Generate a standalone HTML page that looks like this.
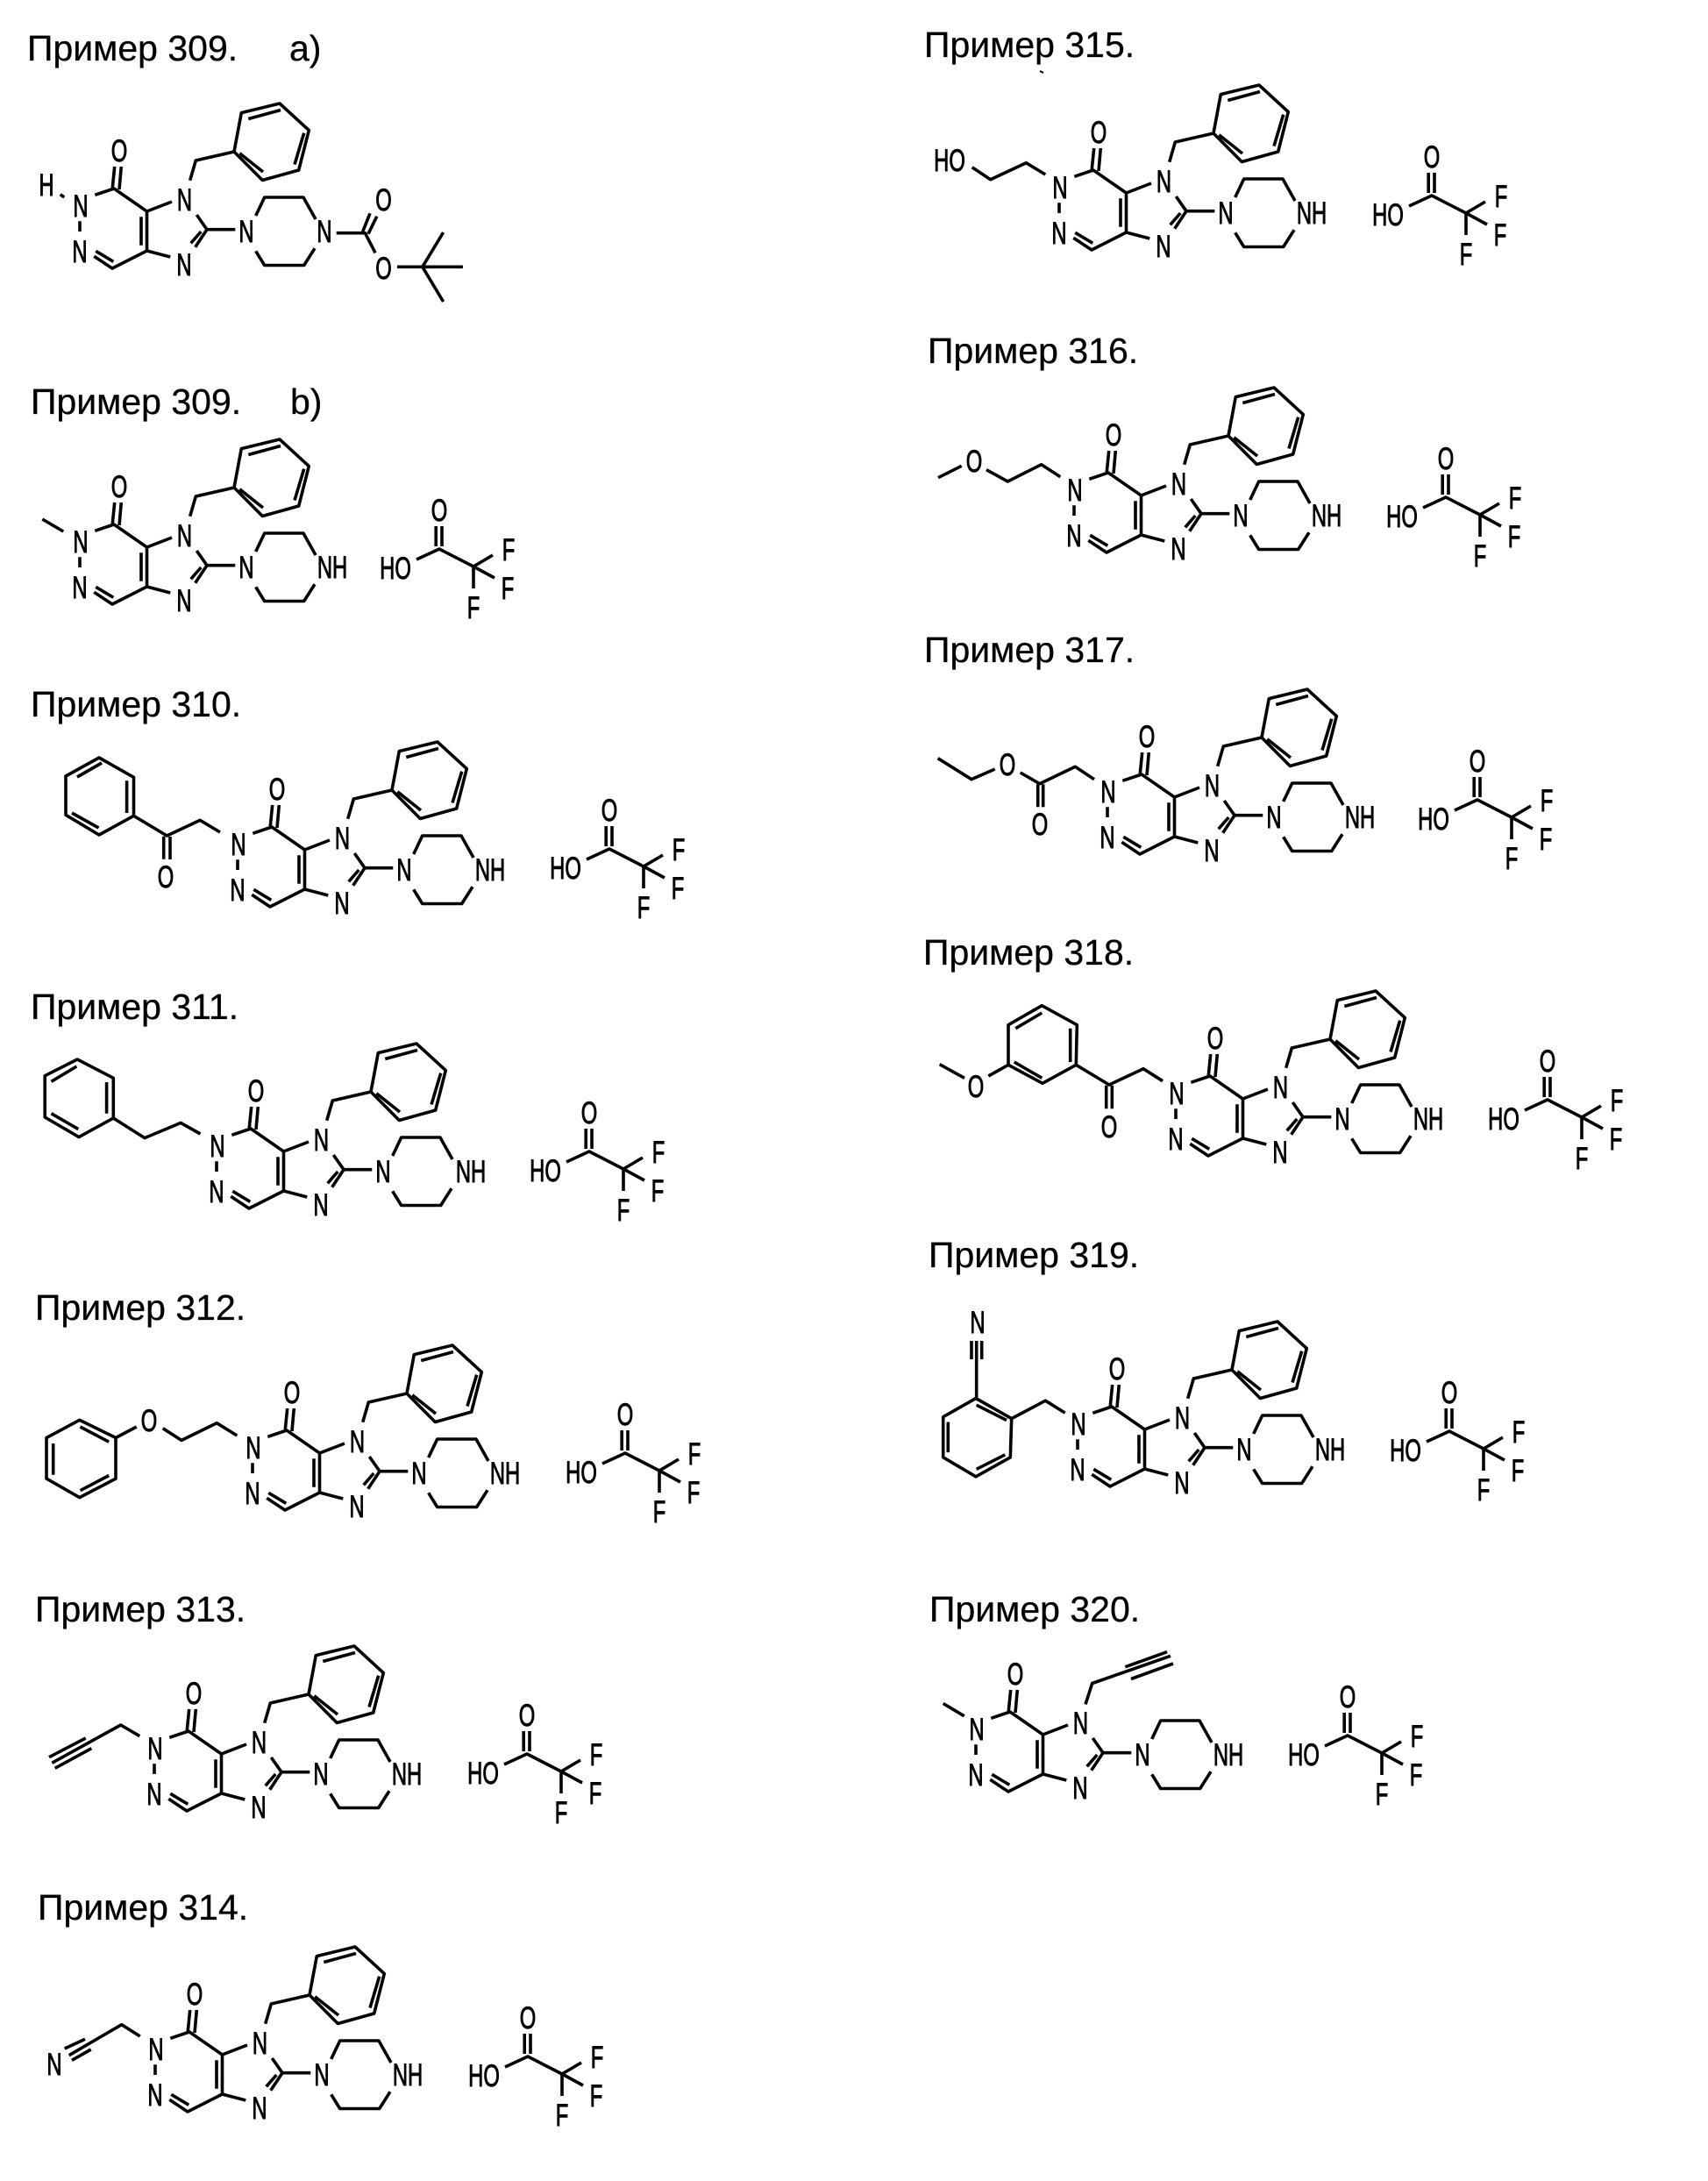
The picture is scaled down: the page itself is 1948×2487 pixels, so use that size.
<!DOCTYPE html>
<html lang="ru"><head><meta charset="utf-8"><title>Примеры 309–320</title>
<style>
html,body{margin:0;padding:0;background:#fff}
svg{display:block}
text{font-family:"Liberation Sans",sans-serif;fill:#000}
text.h{font-size:41px;stroke:#000;stroke-width:.3}
g.m text{font-size:35px;text-anchor:middle;stroke:#000;stroke-width:1;transform-box:fill-box;transform-origin:center;transform:scale(.68,1)}
path{fill:none;stroke:#000;stroke-width:3.6;stroke-linejoin:round}
</style></head><body>
<svg xmlns="http://www.w3.org/2000/svg" width="1948" height="2487" viewBox="0 0 1948 2487">
<rect width="1948" height="2487" fill="#fff"/>
<defs>
<g id="core">
<path d="M-172.7-41.7L-151-49L-113.5-23L-85-34M-152.7-50L-150.3-74M-145-48L-142.7-74M-113.5-23V22M-120-16.7V15.7M-86.7 29L-113.5 22L-153 42L-173.7 28.3M-171.7 22.3L-151.7 34.3M-190-11.7V0M-56.7-19L-45-2.3L-58.3 17.7M-63.3 13.3L-51.7 0M-45-2.3H-12.7M10.7-18L20.7-39H65L79-14M10.7 22.3L20.7 38.5H65.7L78 19.2"/>
</g>
<g id="bn">
<path d="M-64.3-58.3L-57.7-81L-14-91L-5.7-135.4L38-146L71.3-115.4L59.7-70L18.3-58.5L-14-91M-7.7-89.2L19-68M2.3-128.5L39-138.5M65.7-112.3L55-76.5"/>
</g>
<g id="tfa">
<path d="M-26 12L0 0L39 20L61 7M39 20L63 33M39 20V45M-3.8-3V-26M3-3V-26"/>
</g>
</defs>

<text class="h" x="31" y="69">Пример 309.</text><text class="h" x="330" y="69">a)</text>
<text class="h" x="35" y="472">Пример 309.</text><text class="h" x="331" y="472">b)</text>
<text class="h" x="35" y="817">Пример 310.</text>
<text class="h" x="35" y="1162">Пример 311.</text>
<text class="h" x="40" y="1505">Пример 312.</text>
<text class="h" x="40" y="1849">Пример 313.</text>
<text class="h" x="43" y="2189">Пример 314.</text>
<text class="h" x="1054" y="65">Пример 315.</text>
<text class="h" x="1058" y="414">Пример 316.</text>
<text class="h" x="1054" y="755">Пример 317.</text>
<text class="h" x="1053" y="1100">Пример 318.</text>
<text class="h" x="1059" y="1445">Пример 319.</text>
<text class="h" x="1060" y="1849">Пример 320.</text>
<path d="M1186 81L1190 83" style="stroke-width:2"/>

<!-- 309a -->
<g class="m" transform="translate(281,264)"><use href="#core"/><use href="#bn"/>
<path d="M-212.3-42.3L-207.7-39M102.7 1.7H135.4L147 24.3M132.7 0L141-20.7M139 2.7L148.8-17.3M172 40.3H246.9M224.6 1L200.8 40.3L224.6 80"/>
<text x="-145" y="-80">O</text><text x="-189" y="-17">N</text><text x="-190" y="35">N</text><text x="-70.5" y="-24">N</text><text x="-71" y="50">N</text><text x="0" y="12">N</text><text x="89" y="12">N</text>
<text x="-228" y="-41">H</text><text x="156.5" y="-24">O</text><text x="156.5" y="54">O</text></g>

<!-- 309b -->
<g class="m" transform="translate(281,647)"><use href="#core"/><use href="#bn"/>
<path d="M-232.7-55L-208.8-41"/>
<text x="-145" y="-80">O</text><text x="-189" y="-17">N</text><text x="-190" y="35">N</text><text x="-70.5" y="-24">N</text><text x="-71" y="50">N</text><text x="0" y="12">N</text><text x="98" y="12">NH</text></g>
<g class="m" transform="translate(501,626)"><use href="#tfa"/><text x="0" y="-32">O</text><text x="-50" y="34">HO</text><text x="79" y="13">F</text><text x="78" y="57">F</text><text x="39" y="79">F</text></g>

<!-- 310 -->
<g class="m" transform="translate(461,992)"><use href="#core"/><use href="#bn"/>
<path d="M-210-43L-232.8-56.7L-270.6-39L-308.5-61.7V-105.7L-348-128L-386-107V-62.7L-348-40L-308.5-61.7M-316.4-101.7V-65M-345-122L-373-106M-379-65L-348.5-48M-274.3-38.3V-12.3M-267-38V-12"/>
<text x="-145" y="-80">O</text><text x="-189" y="-17">N</text><text x="-190" y="35">N</text><text x="-70.5" y="-24">N</text><text x="-71" y="50">N</text><text x="0" y="12">N</text><text x="98" y="12">NH</text><text x="-272" y="20">O</text></g>
<g class="m" transform="translate(695,968)"><use href="#tfa"/><text x="0" y="-32">O</text><text x="-50" y="34">HO</text><text x="79" y="13">F</text><text x="78" y="57">F</text><text x="39" y="79">F</text></g>

<!-- 311 -->
<g class="m" transform="translate(437,1336)"><use href="#core"/><use href="#bn"/>
<path d="M-208.5-43L-230.8-55.6L-272-38.4L-307.7-61V-106.7L-348.8-128L-385.8-109.3V-62L-347-39.4L-307.7-61M-315.4-102V-66.3M-349.6-120L-378.5-102.7M-378.5-66.3L-347.7-48.4"/>
<text x="-145" y="-80">O</text><text x="-189" y="-17">N</text><text x="-190" y="35">N</text><text x="-70.5" y="-24">N</text><text x="-71" y="50">N</text><text x="0" y="12">N</text><text x="100" y="12">NH</text></g>
<g class="m" transform="translate(672,1313)"><use href="#tfa"/><text x="0" y="-32">O</text><text x="-50" y="34">HO</text><text x="79" y="13">F</text><text x="78" y="57">F</text><text x="39" y="79">F</text></g>

<!-- 312 -->
<g class="m" transform="translate(478,1680)"><use href="#core"/><use href="#bn"/>
<path d="M-207.7-43L-230.8-57.3L-271-37.6L-292.3-51.3M-322.3-53L-346-40.5V6.1L-387.3 27.6L-425 6.1V-40.5L-387.3-60.7L-346-40.5M-353.8-35.8L-386.5-53M-417.3-34V1.8M-386.5 19.7L-353.8 2.5"/>
<text x="-145" y="-80">O</text><text x="-189" y="-17">N</text><text x="-190" y="35">N</text><text x="-70.5" y="-24">N</text><text x="-71" y="50">N</text><text x="0" y="12">N</text><text x="98" y="12">NH</text><text x="-308" y="-48">O</text></g>
<g class="m" transform="translate(713,1657)"><use href="#tfa"/><text x="0" y="-32">O</text><text x="-50" y="34">HO</text><text x="79" y="13">F</text><text x="78" y="57">F</text><text x="39" y="79">F</text></g>

<!-- 313 -->
<g class="m" transform="translate(366,2023)"><use href="#core"/><use href="#bn"/>
<path d="M-206.7-43.3L-228.3-56L-306.7-12.7M-310-19.3L-268.3-41M-303.3-6.7L-261.7-29.3"/>
<text x="-145" y="-80">O</text><text x="-189" y="-17">N</text><text x="-190" y="35">N</text><text x="-70.5" y="-24">N</text><text x="-71" y="50">N</text><text x="0" y="12">N</text><text x="98" y="12">NH</text></g>
<g class="m" transform="translate(601,2000)"><use href="#tfa"/><text x="0" y="-32">O</text><text x="-50" y="34">HO</text><text x="79" y="13">F</text><text x="78" y="57">F</text><text x="39" y="79">F</text></g>

<!-- 314 -->
<g class="m" transform="translate(367,2366)"><use href="#core"/><use href="#bn"/>
<path d="M-207.3-44L-228.3-57.3L-288.3-22.3M-293.3-30L-270-40.7M-285-16.7L-263.3-29"/>
<text x="-145" y="-80">O</text><text x="-189" y="-17">N</text><text x="-190" y="35">N</text><text x="-70.5" y="-24">N</text><text x="-71" y="50">N</text><text x="0" y="12">N</text><text x="98" y="12">NH</text><text x="-305" y="0">N</text></g>
<g class="m" transform="translate(602,2345)"><use href="#tfa"/><text x="0" y="-32">O</text><text x="-50" y="34">HO</text><text x="79" y="13">F</text><text x="78" y="57">F</text><text x="39" y="79">F</text></g>

<!-- 315 -->
<g class="m" transform="translate(1398,243)"><use href="#core"/><use href="#bn"/>
<path d="M-205.7-44L-227.7-57.3L-268.3-38.3L-289.3-52.3"/>
<text x="-145" y="-80">O</text><text x="-189" y="-17">N</text><text x="-190" y="35">N</text><text x="-70.5" y="-24">N</text><text x="-71" y="50">N</text><text x="0" y="12">N</text><text x="98" y="12">NH</text><text x="-315" y="-48">HO</text></g>
<g class="m" transform="translate(1633,223)"><use href="#tfa"/><text x="0" y="-32">O</text><text x="-50" y="34">HO</text><text x="79" y="13">F</text><text x="78" y="57">F</text><text x="39" y="79">F</text></g>

<!-- 316 -->
<g class="m" transform="translate(1415,588)"><use href="#core"/><use href="#bn"/>
<path d="M-205.7-44.3L-227.3-58.3L-265.7-39L-290-52.3M-318.3-56.7L-345-43.3"/>
<text x="-145" y="-80">O</text><text x="-189" y="-17">N</text><text x="-190" y="35">N</text><text x="-70.5" y="-24">N</text><text x="-71" y="50">N</text><text x="0" y="12">N</text><text x="98" y="12">NH</text><text x="-304" y="-50">O</text></g>
<g class="m" transform="translate(1649,567)"><use href="#tfa"/><text x="0" y="-32">O</text><text x="-50" y="34">HO</text><text x="79" y="13">F</text><text x="78" y="57">F</text><text x="39" y="79">F</text></g>

<!-- 317 -->
<g class="m" transform="translate(1453,932)"><use href="#core"/><use href="#bn"/>
<path d="M-205-43.3L-226.7-57.7L-267.3-38.3L-289.3-51M-318.3-55L-345-43.3L-383.3-67.3M-269.3-37.7V-11.7M-263.3-37.7V-11.7"/>
<text x="-145" y="-80">O</text><text x="-189" y="-17">N</text><text x="-190" y="35">N</text><text x="-70.5" y="-24">N</text><text x="-71" y="50">N</text><text x="0" y="12">N</text><text x="98" y="12">NH</text><text x="-304" y="-48">O</text><text x="-267" y="20">O</text></g>
<g class="m" transform="translate(1685,912)"><use href="#tfa"/><text x="0" y="-32">O</text><text x="-50" y="34">HO</text><text x="79" y="13">F</text><text x="78" y="57">F</text><text x="39" y="79">F</text></g>

<!-- 318 -->
<g class="m" transform="translate(1531,1276)"><use href="#core"/><use href="#bn"/>
<path d="M-205-43.3L-227-57.3L-266-39L-303.7-61.7L-302.7-107.3L-342.7-129.3L-381-107.3V-61.7L-342-40.7L-303.7-61.7M-310.3-103.3V-65M-342.7-121L-372.7-103.3M-374.3-65L-342.7-46.7M-269.3-38.3V-11.7M-262.7-38.3V-11.7M-381-61.7L-403.7-49M-431-46.7L-459.3-62.3"/>
<text x="-145" y="-80">O</text><text x="-189" y="-17">N</text><text x="-190" y="35">N</text><text x="-70.5" y="-24">N</text><text x="-71" y="50">N</text><text x="0" y="12">N</text><text x="98" y="12">NH</text><text x="-266" y="21">O</text><text x="-418" y="-25">O</text></g>
<g class="m" transform="translate(1765,1254)"><use href="#tfa"/><text x="0" y="-32">O</text><text x="-50" y="34">HO</text><text x="79" y="13">F</text><text x="78" y="57">F</text><text x="39" y="79">F</text></g>

<!-- 319 -->
<g class="m" transform="translate(1419,1653)"><use href="#core"/><use href="#bn"/>
<path d="M-204.3-41.9L-226.7-55.8L-265.3-35.4L-266.7 8.8L-306 30.8L-343.3 8.8V-37.3L-306-58.5L-265.3-35.4M-305.3-50.8L-271-33.5M-337.7-31.5V3.1M-305.3 22.3L-272.7 5.8M-305.3-58.5V-124M-311-124V-103M-299.3-124V-103"/>
<text x="-145" y="-80">O</text><text x="-189" y="-17">N</text><text x="-190" y="35">N</text><text x="-70.5" y="-24">N</text><text x="-71" y="50">N</text><text x="0" y="12">N</text><text x="98" y="12">NH</text><text x="-304" y="-133">N</text></g>
<g class="m" transform="translate(1653,1632)"><use href="#tfa"/><text x="0" y="-32">O</text><text x="-50" y="34">HO</text><text x="79" y="13">F</text><text x="78" y="57">F</text><text x="39" y="79">F</text></g>

<!-- 320 -->
<g class="m" transform="translate(1303,2001)"><use href="#core"/>
<path d="M-227.3-58.5L-203.3-44.2M-65-57.6L-57.3-81.5L32-112.7M-19.7-100.2L28-117.3M-13-86.5L35-104"/>
<text x="-145" y="-80">O</text><text x="-189" y="-17">N</text><text x="-190" y="35">N</text><text x="-70.5" y="-24">N</text><text x="-71" y="50">N</text><text x="0" y="12">N</text><text x="98" y="12">NH</text></g>
<g class="m" transform="translate(1537,1979)"><use href="#tfa"/><text x="0" y="-32">O</text><text x="-50" y="34">HO</text><text x="79" y="13">F</text><text x="78" y="57">F</text><text x="39" y="79">F</text></g>
</svg>
</body></html>
